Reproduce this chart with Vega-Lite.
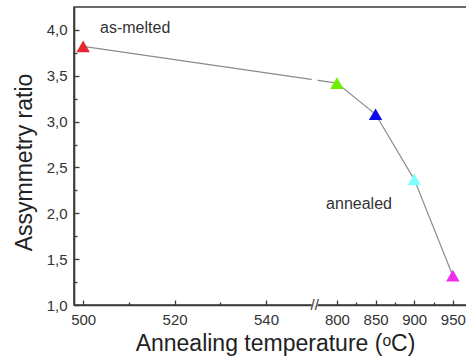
{
  "$schema": "https://vega.github.io/schema/vega-lite/v6.json",
  "autosize": "none",
  "width": 402,
  "height": 298,
  "padding": {"left": 74, "top": 7, "right": 0, "bottom": 55},
  "background": "white",
  "config": {
    "view": {"stroke": "#3a3a3a", "strokeWidth": 1.6},
    "axis": {
      "grid": false,
      "domainColor": "#3a3a3a",
      "domainWidth": 1.6,
      "tickColor": "#3a3a3a",
      "tickWidth": 1.3,
      "tickSize": -5,
      "labelFont": "Liberation Sans",
      "labelFontSize": 15,
      "labelColor": "#333333",
      "labelPadding": 12,
      "titleFont": "Liberation Sans",
      "titleFontSize": 23,
      "titleFontWeight": "normal",
      "titleColor": "#222222"
    }
  },
  "data": {
    "values": [
      {"T": 500, "ratio": 3.82},
      {"T": 800, "ratio": 3.42},
      {"T": 850, "ratio": 3.08},
      {"T": 900, "ratio": 2.37},
      {"T": 950, "ratio": 1.32}
    ]
  },
  "resolve": {"axis": {"x": "independent", "y": "independent"}},
  "layer": [
    {
      "mark": {"type": "line", "color": "#8c8c8c", "strokeWidth": 1.2},
      "encoding": {
        "x": {
          "field": "T",
          "type": "quantitative",
          "scale": {"domain": [498, 550, 775, 980], "range": [0, 237.75, 243.6, 402], "nice": false, "zero": false},
          "axis": {
            "orient": "bottom",
            "values": [500, 520, 540, 800, 850, 900, 950],
            "title": "Annealing temperature (ᵒC)",
            "titlePadding": 5
          }
        },
        "y": {
          "field": "ratio",
          "type": "quantitative",
          "scale": {"domain": [1, 4.25], "nice": false, "zero": false},
          "axis": {
            "orient": "left",
            "values": [1, 1.5, 2, 2.5, 3, 3.5, 4],
            "labelExpr": "replace(format(datum.value, '.1f'), '.', ',')",
            "title": "Assymmetry ratio",
            "titlePadding": 10,
            "titleY": 155
          }
        }
      }
    },
    {
      "data": {"values": [{"band": "break"}]},
      "mark": {"type": "rect", "fill": "white"},
      "encoding": {
        "x": {
          "datum": 550,
          "type": "quantitative",
          "axis": {
            "orient": "bottom",
            "values": [510, 530, 825, 875, 925],
            "labels": false,
            "domain": false,
            "tickSize": -3,
            "title": null
          }
        },
        "x2": {"datum": 775},
        "y": {
          "datum": 0.985,
          "type": "quantitative",
          "axis": {
            "orient": "left",
            "values": [1.25, 1.75, 2.25, 2.75, 3.25, 3.75],
            "labels": false,
            "domain": false,
            "tickSize": -3,
            "title": null
          }
        },
        "y2": {"datum": 4.15}
      }
    },
    {
      "mark": {"type": "point", "shape": "triangle-up", "filled": true, "opacity": 1, "size": 180},
      "encoding": {
        "x": {"field": "T", "type": "quantitative", "axis": null},
        "y": {"field": "ratio", "type": "quantitative", "axis": null},
        "color": {
          "field": "T",
          "type": "nominal",
          "scale": {"domain": [500, 800, 850, 900, 950], "range": ["#e8262e", "#6cf000", "#0c0ce8", "#80ffff", "#ee2cee"]},
          "legend": null
        }
      }
    },
    {
      "data": {"values": [{"mark": "axis break"}]},
      "mark": {"type": "text", "text": "//", "fontSize": 15, "font": "Liberation Sans", "color": "#3a3a3a", "baseline": "middle", "align": "center"},
      "encoding": {
        "x": {"datum": 662, "type": "quantitative", "axis": null},
        "y": {"datum": 1.0, "type": "quantitative", "axis": null}
      }
    },
    {
      "data": {"values": [{"label": "as-melted"}]},
      "mark": {"type": "text", "fontSize": 16, "font": "Liberation Sans", "color": "#333333", "baseline": "middle", "align": "left"},
      "encoding": {
        "x": {"datum": 503.7, "type": "quantitative", "axis": null},
        "y": {"datum": 4.02, "type": "quantitative", "axis": null},
        "text": {"field": "label"}
      }
    },
    {
      "data": {"values": [{"label": "annealed"}]},
      "mark": {"type": "text", "fontSize": 16, "font": "Liberation Sans", "color": "#333333", "baseline": "middle", "align": "left"},
      "encoding": {
        "x": {"datum": 786, "type": "quantitative", "axis": null},
        "y": {"datum": 2.1, "type": "quantitative", "axis": null},
        "text": {"field": "label"}
      }
    }
  ]
}
